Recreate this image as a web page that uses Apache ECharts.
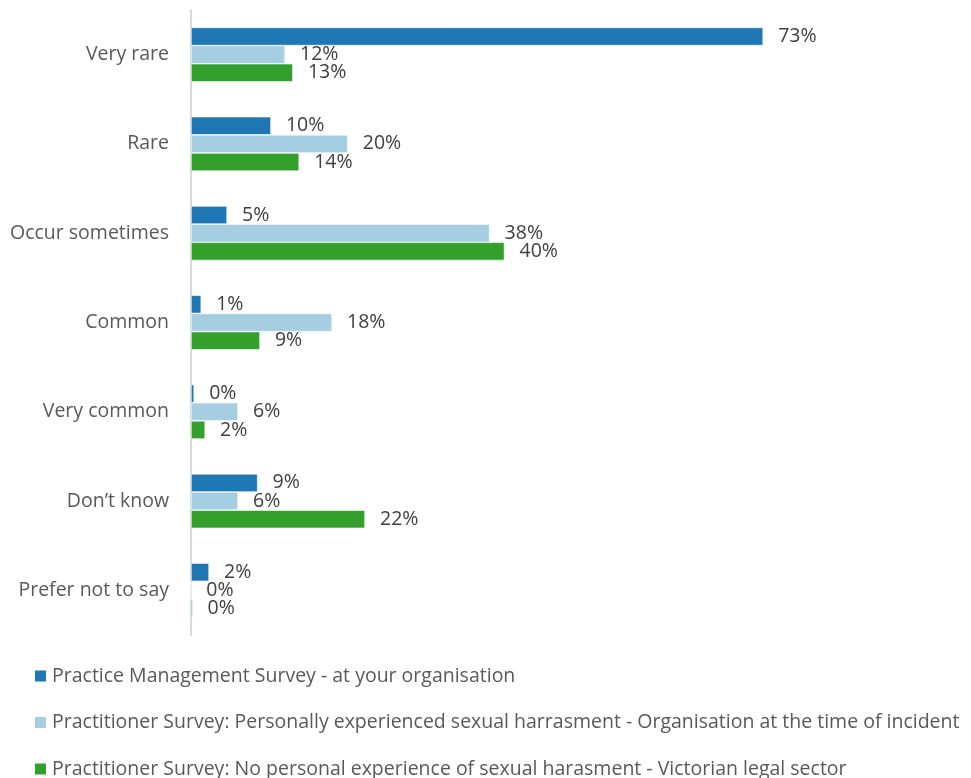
<!DOCTYPE html>
<html>
<head>
<meta charset="utf-8">
<script src="https://cdn.jsdelivr.net/npm/echarts@6/dist/echarts.min.js"></script>
<style>
  html, body { margin: 0; padding: 0; background: #fff; }
  #chart { width: 971px; height: 778px; }
</style>
</head>
<body>
<div id="chart"></div>
<script>
// categories (top to bottom)
const categories = ['Very rare', 'Rare', 'Occur sometimes', 'Common', 'Very common', 'Don\u2019t know', 'Prefer not to say'];

// series names
const seriesNames = [
  'Practice Management Survey - at your organisation',
  'Practitioner Survey: Personally experienced sexual harrasment - Organisation at the time of incident',
  'Practitioner Survey: No personal experience of sexual harasment - Victorian legal sector'
];

// values in %
const practiceMgmt = [73, 10.2, 4.6, 1.3, 0.4, 8.5, 2.3];
const personallyExperienced = [12, 20, 38.1, 18, 6, 6, 0];
const noPersonalExperience = [13, 13.8, 40, 8.8, 1.8, 22.2, 0.2];

const colors = ['#1f77b4', '#a6cee3', '#33a02c'];

const chart = echarts.init(document.getElementById('chart'));

const labelOpt = {
  show: true,
  position: 'right',
  distance: 15,
  color: '#404040',
  fontSize: 19.5,
  fontFamily: 'Open Sans',
  formatter: (p) => Math.round(p.value) + '%'
};

const option = {
  animation: false,
  color: colors,
  textStyle: { fontFamily: 'Open Sans' },
  grid: {
    left: 191,
    top: 10,
    bottom: 143,
    width: 627
  },
  xAxis: {
    type: 'value',
    min: 0,
    max: 80,
    show: false
  },
  yAxis: {
    type: 'category',
    inverse: true,
    data: categories,
    axisTick: { show: false },
    axisLine: { show: true, lineStyle: { color: '#d9d9d9', width: 2 } },
    axisLabel: { color: '#595959', fontSize: 19.5, margin: 22 }
  },
  legend: {
    orient: 'vertical',
    left: 33,
    top: 666,
    height: 130,
    padding: 0,
    itemWidth: 13,
    itemHeight: 13,
    itemGap: 26.5,
    itemTextGap: 5,
    icon: 'rect',
    textStyle: { color: '#595959', fontSize: 19.5 },
    data: seriesNames
  },
  series: [practiceMgmt, personallyExperienced, noPersonalExperience].map((vals, i) => ({
    name: seriesNames[i],
    type: 'bar',
    data: vals,
    barGap: '0%',
    barCategoryGap: '39%',
    itemStyle: { color: colors[i], borderColor: '#ffffff', borderWidth: 0.6 },
    label: labelOpt
  }))
};

chart.setOption(option);
</script>
</body>
</html>
